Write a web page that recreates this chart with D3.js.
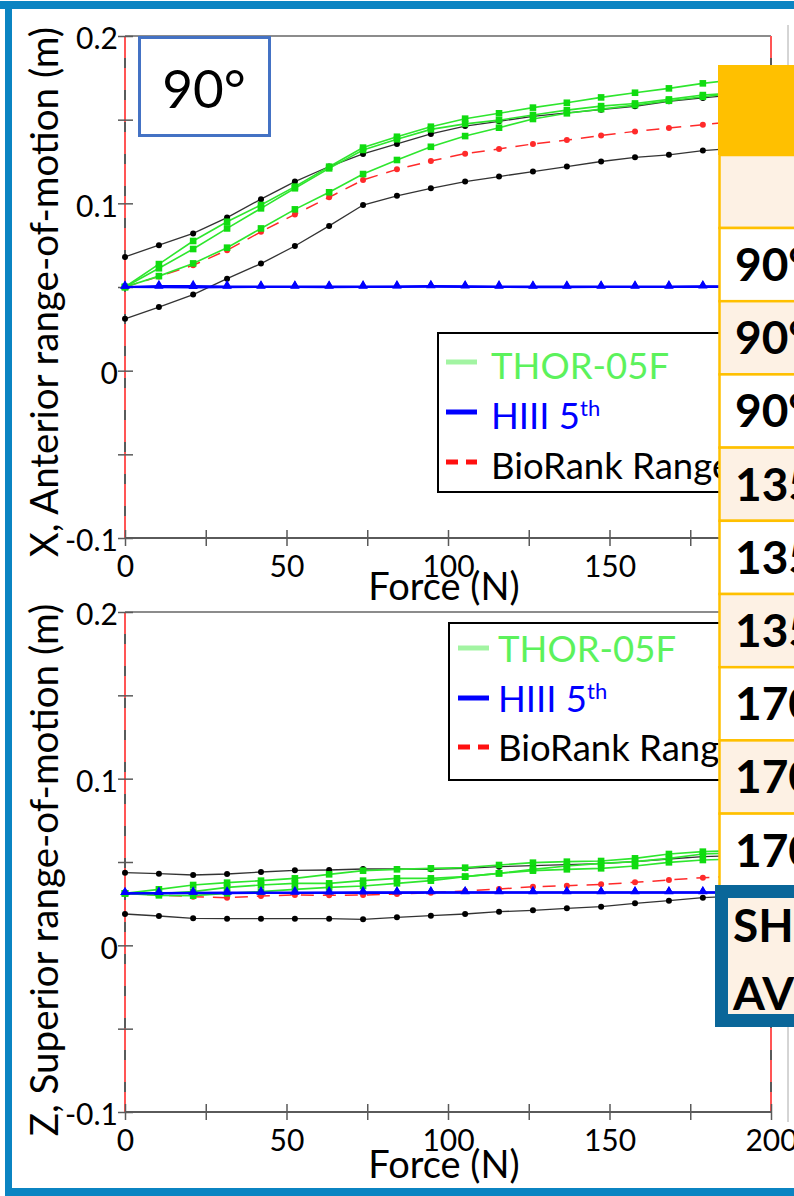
<!DOCTYPE html>
<html>
<head>
<meta charset="utf-8">
<script src="https://cdn.jsdelivr.net/npm/d3@7"></script>
<style>
  html, body { margin: 0; padding: 0; background: #fff; }
  svg { display: block; }
</style>
</head>
<body>
<svg id="fig" width="794" height="1196"></svg>
<script>
// ---- data: force steps (N) and range-of-motion (m) ----
const forceN = [0, 10.5, 21.1, 31.6, 42.1, 52.6, 63.2, 73.7, 84.2, 94.7, 105.3, 115.8, 126.3, 136.8, 147.4, 157.9, 168.4, 178.9, 189.5, 200];

// X, anterior
const xBioUpper = [0.068, 0.075, 0.082, 0.0915, 0.1025, 0.113, 0.122, 0.1295, 0.1355, 0.1415, 0.1462, 0.149, 0.152, 0.154, 0.156, 0.158, 0.161, 0.163, 0.165, 0.167];
const xBioLower = [0.031, 0.038, 0.0455, 0.055, 0.064, 0.0745, 0.0865, 0.099, 0.1045, 0.109, 0.113, 0.116, 0.119, 0.122, 0.125, 0.1275, 0.129, 0.1315, 0.133, 0.135];
const xBioMean  = [0.05, 0.0563, 0.063, 0.072, 0.083, 0.0934, 0.1036, 0.114, 0.1203, 0.1253, 0.1297, 0.1325, 0.1355, 0.1378, 0.1406, 0.143, 0.145, 0.147, 0.149, 0.151];
const xThorA = [0.05, 0.0637, 0.0775, 0.089, 0.099, 0.110, 0.1219, 0.1333, 0.1398, 0.1458, 0.1506, 0.1538, 0.1572, 0.1601, 0.1633, 0.1661, 0.1687, 0.1717, 0.174, 0.176];
const xThorB = [0.05, 0.0612, 0.0727, 0.085, 0.097, 0.109, 0.1209, 0.1319, 0.1383, 0.1442, 0.1475, 0.1497, 0.1528, 0.1557, 0.1581, 0.1597, 0.1621, 0.1647, 0.166, 0.168];
const xThorC = [0.05, 0.0565, 0.0641, 0.0735, 0.085, 0.0964, 0.1066, 0.1175, 0.1259, 0.1338, 0.1402, 0.1452, 0.1504, 0.1538, 0.1563, 0.1587, 0.1613, 0.1637, 0.166, 0.168];
const xHiiiA = [0.050, 0.0505, 0.0505, 0.0503, 0.0502, 0.0502, 0.0502, 0.0503, 0.0503, 0.0505, 0.0504, 0.0503, 0.0502, 0.0502, 0.0502, 0.0502, 0.0503, 0.0504, 0.0504, 0.0504];
const xHiiiB = [0.050, 0.0499, 0.0498, 0.0499, 0.0500, 0.0500, 0.0499, 0.0500, 0.0501, 0.0502, 0.0501, 0.0500, 0.0499, 0.0499, 0.0500, 0.0500, 0.0500, 0.0501, 0.0501, 0.0501];

// Z, superior
const zBioUpper = [0.0436, 0.043, 0.0422, 0.0428, 0.044, 0.045, 0.0452, 0.0458, 0.0458, 0.0456, 0.0462, 0.0472, 0.0478, 0.0484, 0.049, 0.0502, 0.0518, 0.0532, 0.0538, 0.0545];
const zBioLower = [0.0188, 0.0176, 0.0162, 0.016, 0.016, 0.016, 0.016, 0.0156, 0.0168, 0.0178, 0.0188, 0.0202, 0.021, 0.0222, 0.0232, 0.0252, 0.0268, 0.0286, 0.0295, 0.0305];
const zBioMean  = [0.0312, 0.0302, 0.0292, 0.0286, 0.0296, 0.0302, 0.030, 0.0302, 0.0308, 0.0316, 0.0326, 0.0338, 0.0352, 0.0358, 0.0366, 0.0378, 0.0392, 0.0406, 0.0415, 0.0425];
const zThorA = [0.0312, 0.0336, 0.0362, 0.0376, 0.0388, 0.0402, 0.0426, 0.0448, 0.0456, 0.0462, 0.0466, 0.0482, 0.0496, 0.0502, 0.0506, 0.0522, 0.0548, 0.0562, 0.0568, 0.0575];
const zThorB = [0.0312, 0.031, 0.0322, 0.0348, 0.0362, 0.0372, 0.0372, 0.0388, 0.0402, 0.0402, 0.0412, 0.0432, 0.0448, 0.0456, 0.0462, 0.0476, 0.0498, 0.0512, 0.0518, 0.0525];
const zThorC = [0.0312, 0.030, 0.0298, 0.0312, 0.0322, 0.0336, 0.0348, 0.0356, 0.0372, 0.0388, 0.0412, 0.0432, 0.0456, 0.0476, 0.0492, 0.0502, 0.0522, 0.0548, 0.0555, 0.056];
const zHiiiA = [0.0312, 0.0314, 0.0315, 0.0316, 0.0316, 0.0317, 0.0317, 0.0318, 0.0318, 0.0318, 0.0318, 0.0318, 0.0318, 0.0318, 0.0318, 0.0318, 0.0318, 0.0318, 0.0318, 0.0318];
const zHiiiB = [0.0312, 0.0312, 0.0313, 0.0313, 0.0314, 0.0314, 0.0315, 0.0315, 0.0315, 0.0316, 0.0316, 0.0316, 0.0316, 0.0316, 0.0316, 0.0316, 0.0316, 0.0316, 0.0316, 0.0316];

// ---- axes ticks ----
const forceDomain = [0, 200];
const romDomain = [-0.1, 0.2];
const xTicks = [0, 25, 50, 75, 100, 125, 150, 175, 200];
const xTickLabels = [0, 50, 100, 150, 200];
const yTicks = [-0.1, -0.05, 0, 0.05, 0.1, 0.15, 0.2];
const yTickLabels = [-0.1, 0, 0.1, 0.2];

// ---- legend and table text ----
const legendNames = ["THOR-05F", "HIII 5", "BioRank Range"];
const tableRows = ["90°", "90°", "90°", "135°", "135°", "135°", "170°", "170°", "170°"];
const summaryRows = ["SH", "AV"];

const svg = d3.select("#fig");
const FONT = "Lato, 'Open Sans', sans-serif";

svg.append("rect").attr("width", 794).attr("height", 1196).attr("fill", "#fff");

const x = d3.scaleLinear(forceDomain, [125, 771]);

const COL = {
  thorLine: "#2ee62e", thorMark: "#10dc10",
  mean: "#ff2a2a", hiii: "#0000ff", axis: "#5a5a5a"
};

function drawPanel(p) {
  const g = svg.append("g");
  const y = d3.scaleLinear(romDomain, [p.bottom, p.top]);

  // frame: top and right edges
  g.append("line").attr("x1", x(0)).attr("x2", x(200)).attr("y1", y(0.2)).attr("y2", y(0.2))
    .attr("stroke", "#666").attr("stroke-width", 1.5);
  [x(0), x(200)].forEach(px => {
    g.append("line").attr("x1", px).attr("x2", px).attr("y1", y(0.2)).attr("y2", y(-0.1))
      .attr("stroke", COL.axis).attr("stroke-width", 2);
    g.append("line").attr("x1", px).attr("x2", px).attr("y1", y(0.2)).attr("y2", y(-0.1))
      .attr("stroke", "#ff5555").attr("stroke-width", 2).attr("stroke-dasharray", "22,10");
  });
  g.append("line").attr("x1", x(0)).attr("x2", x(200)).attr("y1", y(-0.1)).attr("y2", y(-0.1))
    .attr("stroke", COL.axis).attr("stroke-width", 2);

  // y axis
  const ya = g.append("g").attr("transform", `translate(${x(0)},0)`)
    .call(d3.axisLeft(y).tickValues(yTicks).tickSize(7).tickPadding(0)
      .tickFormat(d => yTickLabels.includes(d) ? String(d) : ""));
  ya.select(".domain").remove();
  ya.selectAll(".tick line").attr("x1", 8).attr("stroke", COL.axis).attr("stroke-width", 1.5);
  ya.selectAll(".tick text").attr("x", -7).attr("dy", "0.43em")
    .style("font-family", FONT).style("font-size", "30px").attr("fill", "#000");

  // x axis
  const xa = g.append("g").attr("transform", `translate(0,${y(-0.1)})`)
    .call(d3.axisBottom(x).tickValues(xTicks).tickSize(8).tickPadding(0)
      .tickFormat(d => xTickLabels.includes(d) ? String(d) : ""));
  xa.select(".domain").remove();
  xa.selectAll(".tick line").attr("y1", -8).attr("stroke", COL.axis).attr("stroke-width", 1.5);
  xa.selectAll(".tick text").attr("y", 18).attr("dy", "0.71em")
    .style("font-family", FONT).style("font-size", "30px").attr("fill", "#000");

  // axis titles
  g.append("text").attr("transform", `translate(58,${p.ylabelY}) rotate(-90)`)
    .attr("text-anchor", "middle").style("font-family", FONT).style("font-size", "38.5px")
    .text(p.ylabel);
  g.append("text").attr("x", 444).attr("y", p.xlabelBase).attr("text-anchor", "middle")
    .style("font-family", FONT).style("font-size", "38px").text("Force (N)");

  const line = d3.line().x((d, i) => x(forceN[i])).y(d => y(d));
  const pts = arr => arr.map((v, i) => [x(forceN[i]), y(v)]);

  // BioRank bounds
  [p.bioUpper, p.bioLower].forEach(s => {
    g.append("path").attr("d", line(s)).attr("fill", "none").attr("stroke", "#333").attr("stroke-width", 1.3);
    g.selectAll(null).data(pts(s)).join("circle").attr("cx", d => d[0]).attr("cy", d => d[1])
      .attr("r", 3).attr("fill", "#000");
  });
  // BioRank mean
  g.append("path").attr("d", line(p.bioMean)).attr("fill", "none").attr("stroke", COL.mean)
    .attr("stroke-width", 1.5).attr("stroke-dasharray", "13,9");
  g.selectAll(null).data(pts(p.bioMean)).join("circle").attr("cx", d => d[0]).attr("cy", d => d[1])
    .attr("r", 3).attr("fill", COL.mean);
  // THOR-05F
  p.thor.forEach(s => {
    g.append("path").attr("d", line(s)).attr("fill", "none").attr("stroke", COL.thorLine).attr("stroke-width", 1.6);
    g.selectAll(null).data(pts(s)).join("rect").attr("x", d => d[0] - 3.3).attr("y", d => d[1] - 3.3)
      .attr("width", 6.6).attr("height", 6.6).attr("fill", COL.thorMark);
  });
  // HIII 5th
  const tri = d3.symbol().type(d3.symbolTriangle).size(38);
  p.hiii.forEach(s => {
    g.append("path").attr("d", line(s)).attr("fill", "none").attr("stroke", COL.hiii).attr("stroke-width", 2.1);
    g.selectAll(null).data(pts(s)).join("path").attr("d", tri)
      .attr("transform", d => `translate(${d[0]},${d[1] - 1})`).attr("fill", COL.hiii);
  });

  // legend
  const L = p.legend;
  g.append("rect").attr("x", L.x).attr("y", L.y).attr("width", 400).attr("height", L.h)
    .attr("fill", "#fff").attr("stroke", "#000").attr("stroke-width", 2);
  const rows = [
    { c: "#a2f4a2", dash: null, t: "#5cf25c" },
    { c: "#0000ff", dash: null, t: "#0000ff" },
    { c: "#ff1010", dash: "12,8", t: "#000" }
  ];
  rows.forEach((r, i) => {
    const ly = L.rowY[i];
    g.append("line").attr("x1", L.lx).attr("x2", L.lx + 31).attr("y1", ly).attr("y2", ly)
      .attr("stroke", r.c).attr("stroke-width", 5).attr("stroke-dasharray", r.dash);
    const t = g.append("text").attr("x", L.tx).attr("y", ly + L.base).attr("fill", r.t)
      .style("font-family", FONT).style("font-size", "36.5px").text(legendNames[i]);
    if (i === 1) t.append("tspan").attr("dy", -13).style("font-size", "22px").text("th");
  });
}

drawPanel({
  top: 36, bottom: 538, ylabel: "X, Anterior range-of-motion (m)", ylabelY: 292, xlabelBase: 600,
  bioUpper: xBioUpper, bioLower: xBioLower, bioMean: xBioMean,
  thor: [xThorC, xThorB, xThorA], hiii: [xHiiiA, xHiiiB],
  legend: { x: 438, y: 333, h: 159, rowY: [362, 412, 462], lx: 446, tx: 491, base: 17 }
});
drawPanel({
  top: 612, bottom: 1112, ylabel: "Z, Superior range-of-motion (m)", ylabelY: 870, xlabelBase: 1178,
  bioUpper: zBioUpper, bioLower: zBioLower, bioMean: zBioMean,
  thor: [zThorC, zThorB, zThorA], hiii: [zHiiiA, zHiiiB],
  legend: { x: 449, y: 623, h: 157, rowY: [648, 698, 747], lx: 458, tx: 498, base: 14 }
});

// angle tag
svg.append("rect").attr("x", 139.5).attr("y", 37.5).attr("width", 130).attr("height", 98)
  .attr("fill", "#fff").attr("stroke", "#4472c4").attr("stroke-width", 3);
svg.append("text").attr("x", 204).attr("y", 108).attr("text-anchor", "middle")
  .style("font-family", FONT).style("font-size", "53px").text("90°");

// thin panel separator
svg.append("line").attr("x1", 788).attr("x2", 788).attr("y1", 25).attr("y2", 1122)
  .attr("stroke", "#aaa").attr("stroke-width", 1);

// summary table
const T = svg.append("g");
const ORANGE = "#ffc000", CREAM = "#fdf1e4";
T.append("rect").attr("x", 718).attr("y", 65).attr("width", 90).attr("height", 90).attr("fill", ORANGE);
T.append("rect").attr("x", 719.5).attr("y", 155).attr("width", 90).attr("height", 73)
  .attr("fill", CREAM).attr("stroke", ORANGE).attr("stroke-width", 2.5);
const rowTop = i => 228 + i * 73.2;
tableRows.forEach((label, i) => {
  T.append("rect").attr("x", 719.5).attr("y", rowTop(i)).attr("width", 90).attr("height", 73.2)
    .attr("fill", i % 2 === 0 ? "#fff" : CREAM).attr("stroke", ORANGE).attr("stroke-width", 2.5);
  T.append("text").attr("x", 735).attr("y", rowTop(i) + 53)
    .style("font-family", FONT).style("font-size", "46px").style("font-weight", "bold").text(label);
});
T.append("rect").attr("x", 721.5).attr("y", 891.5).attr("width", 100).attr("height", 129)
  .attr("fill", CREAM).attr("stroke", "#0a6699").attr("stroke-width", 13);
summaryRows.forEach((label, i) => {
  T.append("text").attr("x", 733).attr("y", 942 + i * 68)
    .style("font-family", FONT).style("font-size", "46px").style("font-weight", "bold").text(label);
});

// outer frame
const FRAME = "#0b84c2";
svg.append("rect").attr("x", 0).attr("y", 1).attr("width", 794).attr("height", 8).attr("fill", FRAME);
svg.append("rect").attr("x", 5).attr("y", 1).attr("width", 7).attr("height", 1195).attr("fill", FRAME);
svg.append("rect").attr("x", 5).attr("y", 1188).attr("width", 789).attr("height", 8).attr("fill", FRAME);
</script>
</body>
</html>
